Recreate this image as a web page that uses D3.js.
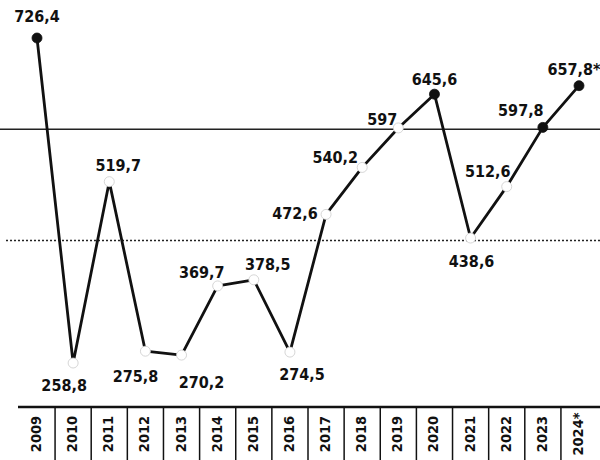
<!DOCTYPE html>
<html>
<head>
<meta charset="utf-8">
<script src="https://cdn.jsdelivr.net/npm/d3@7"></script>
<style>
  html, body { margin: 0; padding: 0; background: #fff; }
  svg { display: block; font-family: "DejaVu Sans Condensed", "DejaVu Sans", sans-serif; }
  .value { font-size: 16px; font-weight: bold; fill: #111; }
  .year { font-size: 14.5px; font-weight: bold; fill: #111; }
</style>
</head>
<body>
<div id="chart"></div>
<script>
// data
const years = ["2009", "2010", "2011", "2012", "2013", "2014", "2015", "2016",
               "2017", "2018", "2019", "2020", "2021", "2022", "2023", "2024*"];
const values = [726.4, 258.8, 519.7, 275.8, 270.2, 369.7, 378.5, 274.5,
                472.6, 540.2, 597, 645.6, 438.6, 512.6, 597.8, 657.8];
const valueLabels = ["726,4", "258,8", "519,7", "275,8", "270,2", "369,7", "378,5", "274,5",
                     "472,6", "540,2", "597", "645,6", "438,6", "512,6", "597,8", "657,8*"];
const filledYears = ["2009", "2020", "2023", "2024*"];
const gridValues = [595, 435];

const width = 600, height = 460;
const axisY = 407;

const svg = d3.select("#chart").append("svg")
    .attr("width", width)
    .attr("height", height);

const x = d3.scalePoint().domain(years).range([37, 579]);
const y = d3.scaleLinear().domain([258.8, 726.4]).range([363, 38]);

const data = years.map((yr, i) => ({ year: yr, value: values[i], label: valueLabels[i] }));

// horizontal reference lines: solid upper, dotted lower
svg.selectAll(".grid")
    .data(gridValues)
    .join("line")
    .attr("class", "grid")
    .attr("x1", (d, i) => i === 0 ? 0 : 6)
    .attr("x2", width)
    .attr("y1", d => y(d))
    .attr("y2", d => y(d))
    .attr("stroke", "#222")
    .attr("stroke-width", 1.5)
    .attr("stroke-dasharray", (d, i) => i === 0 ? null : "2,2");

// bottom axis strip
svg.append("line")
    .attr("x1", 18).attr("x2", width)
    .attr("y1", axisY).attr("y2", axisY)
    .attr("stroke", "#111").attr("stroke-width", 2.5);

const step = x.step();
svg.selectAll(".sep")
    .data(years.slice(1))
    .join("line")
    .attr("class", "sep")
    .attr("x1", d => x(d) - step / 2)
    .attr("x2", d => x(d) - step / 2)
    .attr("y1", axisY)
    .attr("y2", height)
    .attr("stroke", "#111")
    .attr("stroke-width", 1.5);

svg.selectAll(".year")
    .data(years)
    .join("text")
    .attr("class", "year")
    .attr("transform", d => `translate(${x(d) - 1},434) rotate(-90)`)
    .attr("text-anchor", "middle")
    .attr("dominant-baseline", "central")
    .text(d => d);

// the line
const line = d3.line().x(d => x(d.year)).y(d => y(d.value));
svg.append("path")
    .datum(data)
    .attr("d", line)
    .attr("fill", "none")
    .attr("stroke", "#111")
    .attr("stroke-width", 2.8)
    .attr("stroke-linejoin", "round");

// markers: filled black or open (white gap)
svg.selectAll(".dot")
    .data(data)
    .join("circle")
    .attr("class", "dot")
    .attr("cx", d => x(d.year))
    .attr("cy", d => y(d.value))
    .attr("r", 5)
    .attr("fill", d => filledYears.includes(d.year) ? "#111" : "#fff")
    .attr("stroke", d => filledYears.includes(d.year) ? "#111" : "#ccc")
    .attr("stroke-width", 0.8);

// label placement around each marker
const labelOffset = {
    "2009": [0, -16], "2010": [-9, 28], "2011": [9, -11], "2012": [-10, 31],
    "2013": [20, 33], "2014": [-16, -8], "2015": [14, -10], "2016": [12, 28],
    "2017": [-31, 5], "2018": [-27, -4], "2019": [-16, -3], "2020": [0, -9],
    "2021": [1, 29], "2022": [-19, -10], "2023": [-22, -11], "2024*": [-5, -11]
};

svg.selectAll(".value")
    .data(data)
    .join("text")
    .attr("class", "value")
    .attr("x", d => x(d.year) + labelOffset[d.year][0])
    .attr("y", d => y(d.value) + labelOffset[d.year][1])
    .attr("text-anchor", "middle")
    .text(d => d.label);
</script>
</body>
</html>
